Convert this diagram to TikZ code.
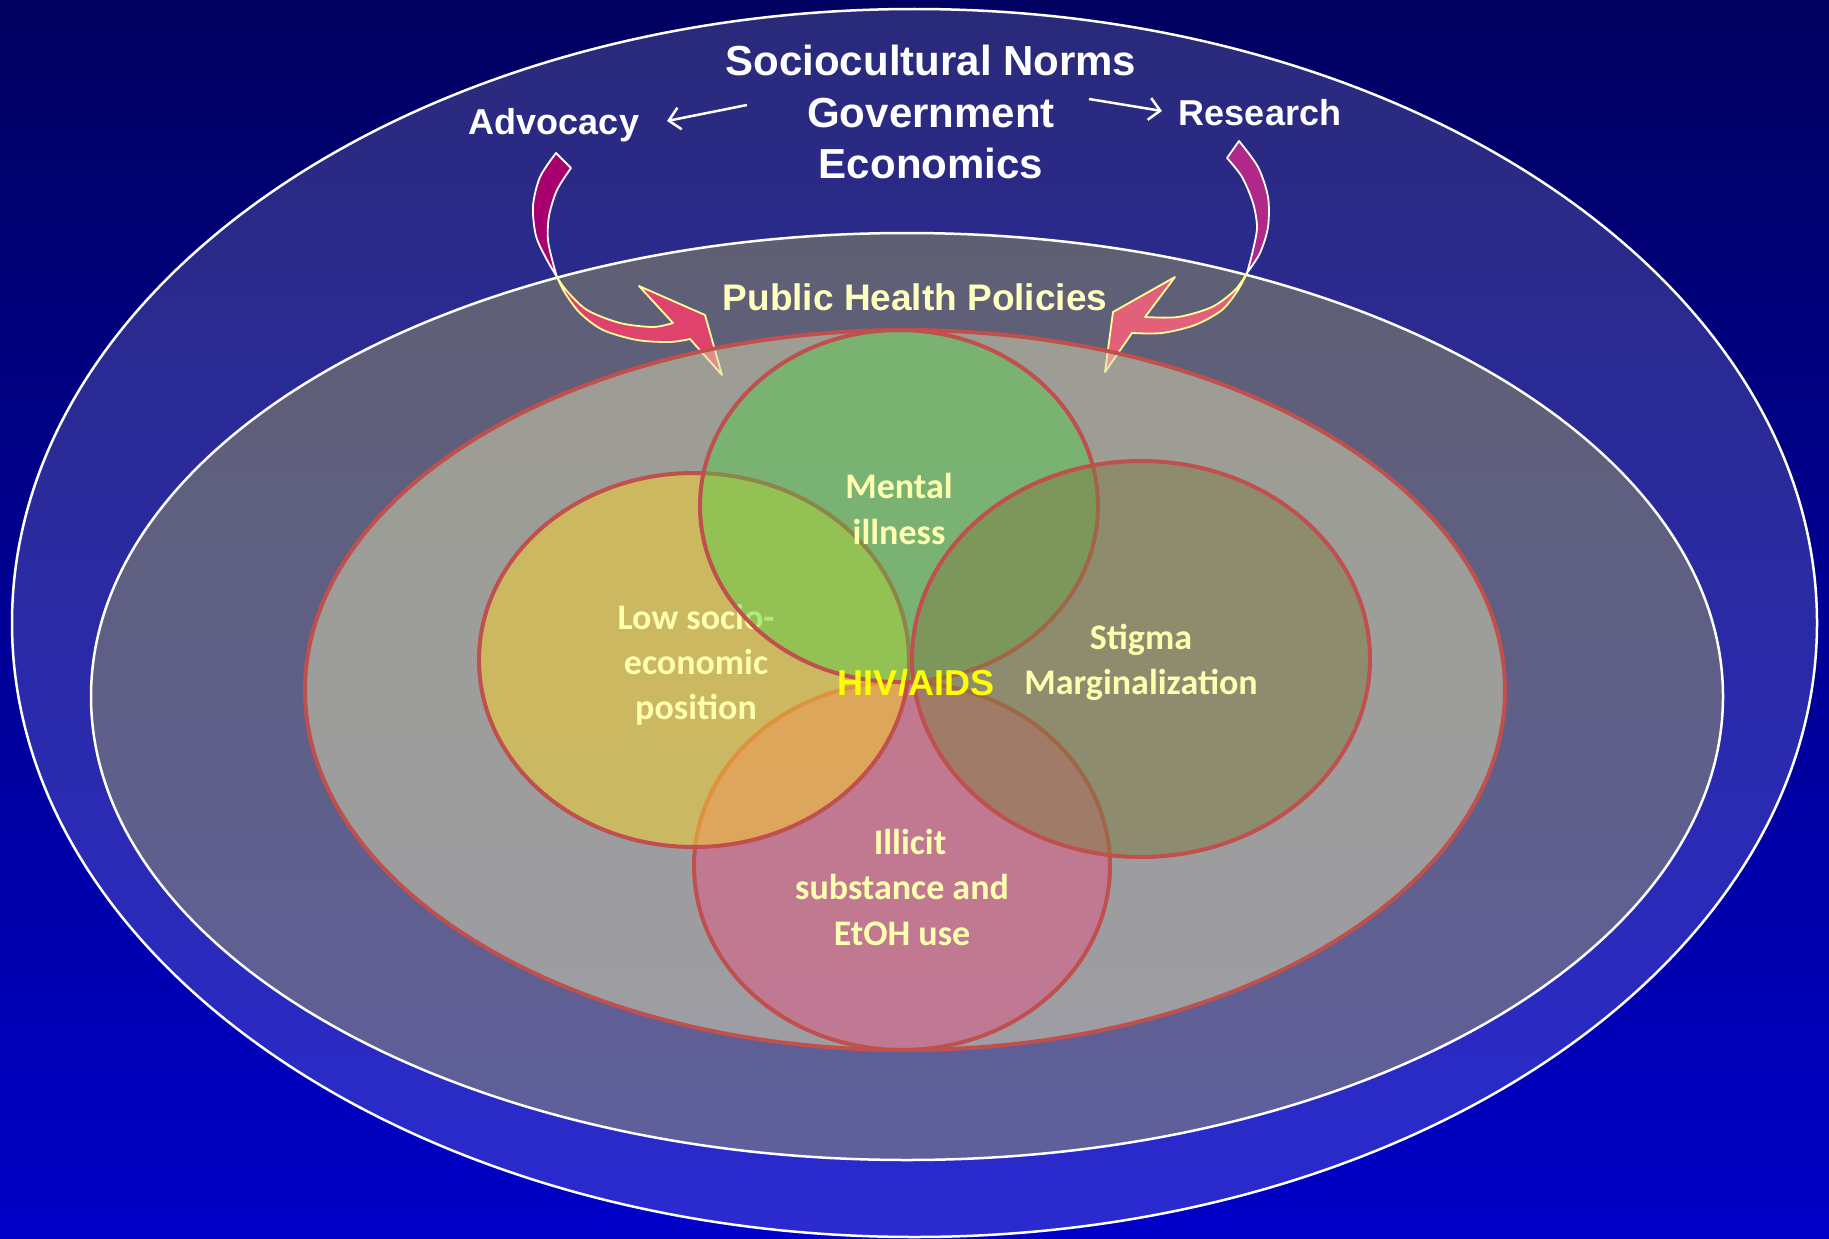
\documentclass[tikz,border=0pt]{standalone}
\usepackage{fontspec}
\setmainfont{Liberation Sans}
\newfontfamily\calib{Carlito}
\usetikzlibrary{arrows.meta}
\definecolor{bgtop}{RGB}{0,0,96}
\definecolor{bgbot}{RGB}{0,0,200}
\definecolor{midfill}{RGB}{183,182,80}
\definecolor{innerfill}{RGB}{219,219,176}
\definecolor{ringred}{RGB}{192,80,77}
\definecolor{greenfill}{RGB}{76,207,68}
\definecolor{goldfill}{RGB}{249,210,42}
\definecolor{olivefill}{RGB}{129,125,67}
\definecolor{pinkfill}{RGB}{228,86,131}
\definecolor{softyellow}{RGB}{255,255,176}
\definecolor{titleyellow}{RGB}{255,255,192}
\definecolor{hivyellow}{RGB}{255,255,0}
\definecolor{backL}{RGB}{168,0,110}
\definecolor{backR}{RGB}{176,40,136}
\definecolor{frontL}{RGB}{224,66,110}
\definecolor{frontR}{RGB}{226,96,122}
\definecolor{edgeyellow}{RGB}{255,255,153}
\begin{document}
\begin{tikzpicture}[x=1pt,y=-1pt,
  ringline/.style={draw=white,line width=2.5pt},
  venn/.style={draw=ringred,line width=4pt},
  toptext/.style={text=white,font=\bfseries\fontsize{42}{50}\selectfont,anchor=base,inner sep=0pt},
  sidetext/.style={text=white,font=\bfseries\fontsize{36}{43}\selectfont,anchor=base,inner sep=0pt},
  vennlabel/.style={text=softyellow,font=\calib\bfseries\fontsize{36}{44}\selectfont,anchor=base,inner sep=0pt},
  thinarrow/.style={draw=white,line width=2.5pt,-{Straight Barb[length=11pt,width=22pt]}},
  backpart/.style={draw=white,line width=1.8pt,line join=round},
  frontpart/.style={draw=edgeyellow,line width=1.8pt,line join=round}]
\useasboundingbox (0,0) rectangle (1829,1239);
% background
\shade[top color=bgtop,bottom color=bgbot] (0,0) rectangle (1829,1239);

% outer and middle rings
\path[ringline,fill=white,fill opacity=0.165] (914.5,623) ellipse [x radius=902.5pt,y radius=614pt];
\path[ringline,fill=midfill,fill opacity=0.38] (907,696.5) ellipse [x radius=816pt,y radius=463.5pt];

% curved block arrow from Advocacy
\filldraw[backpart,fill=backL] (556,153) -- (571,168)
  -- plot[smooth] coordinates {(571,168) (557,190) (549,216) (548,240) (553,263) (557,277)}
  -- plot[smooth] coordinates {(557,277) (547,260) (536,236) (533,206) (540,177) (556,153)} -- cycle;
\filldraw[frontpart,fill=frontL] (557,277)
  -- plot[smooth] coordinates {(557,277) (566,290) (587,310) (620,323) (653,327) (673,323)}
  -- (639,286) -- (705,315) -- (722,375) -- (690,339)
  -- plot[smooth] coordinates {(690,339) (670,342) (637,340) (603,330) (580,313) (565,293) (557,277)} -- cycle;

% curved block arrow from Research
\filldraw[backpart,fill=backR] (1239,141) -- (1227,158)
  -- plot[smooth] coordinates {(1227,158) (1242,177) (1253,203) (1257,227) (1253,250) (1247,273)}
  -- plot[smooth] coordinates {(1247,273) (1260,253) (1268,227) (1268,197) (1258,167) (1239,141)} -- cycle;
\filldraw[frontpart,fill=frontR] (1247,273)
  -- plot[smooth] coordinates {(1247,273) (1235,290) (1212,307) (1178,317) (1145,317)}
  -- (1175,277) -- (1113,312) -- (1105,372) -- (1132,333)
  -- plot[smooth] coordinates {(1132,333) (1162,333) (1195,325) (1222,310) (1238,290) (1247,273)} -- cycle;

% inner ring
\path[venn,fill=innerfill,fill opacity=0.5] (905,690) ellipse [x radius=600pt,y radius=360pt];

% overlapping factors
\path[venn,fill=pinkfill,fill opacity=0.5] (902,866) ellipse [x radius=208pt,y radius=184pt];
\node[vennlabel] (illicit1) at (910,854) {Illicit};
\node[vennlabel] (illicit2) at (902,899) {substance and};
\node[vennlabel] (illicit3) at (902,945) {EtOH use};

\path[venn,fill=goldfill,fill opacity=0.51] (694,660) ellipse [x radius=215pt,y radius=187pt];
\node[vennlabel] (low1) at (696,629) {Low socio-};
\node[vennlabel] (low2) at (696,674) {economic};
\node[vennlabel] (low3) at (696,719) {position};

\path[venn,fill=greenfill,fill opacity=0.43] (899,506) ellipse [x radius=199pt,y radius=176pt];
\node[vennlabel] (mental1) at (899,498) {Mental};
\node[vennlabel] (mental2) at (899,544) {illness};

\path[venn,fill=olivefill,fill opacity=0.51] (1141,659) ellipse [x radius=229pt,y radius=198pt];
\node[vennlabel] (stigma1) at (1141,649) {Stigma};
\node[vennlabel] (stigma2) at (1141,694) {Marginalization};

\node[text=hivyellow,font=\bfseries\fontsize{36}{43}\selectfont,anchor=base,inner sep=0pt] (hiv) at (916,695) {HIV/AIDS};

% titles
\node[text=titleyellow,font=\bfseries\fontsize{37}{44}\selectfont,anchor=base,inner sep=0pt] (policies) at (915,310) {Public Health Policies};
\node[toptext] (norms) at (931,75) {Sociocultural Norms};
\node[toptext] (gov) at (931,127) {Government};
\node[toptext] (econ) at (931,178) {Economics};
\node[sidetext] (adv) at (554,134) {Advocacy};
\node[sidetext] (res) at (1260,125) {Research};

% thin arrows toward Advocacy and Research
\coordinate (advFrom) at (747,105);
\coordinate (advTo) at (667,121);
\coordinate (resFrom) at (1089,99);
\coordinate (resTo) at (1162,111);
\draw[thinarrow] (advFrom) -- (advTo);
\draw[thinarrow] (resFrom) -- (resTo);
\end{tikzpicture}
\end{document}
